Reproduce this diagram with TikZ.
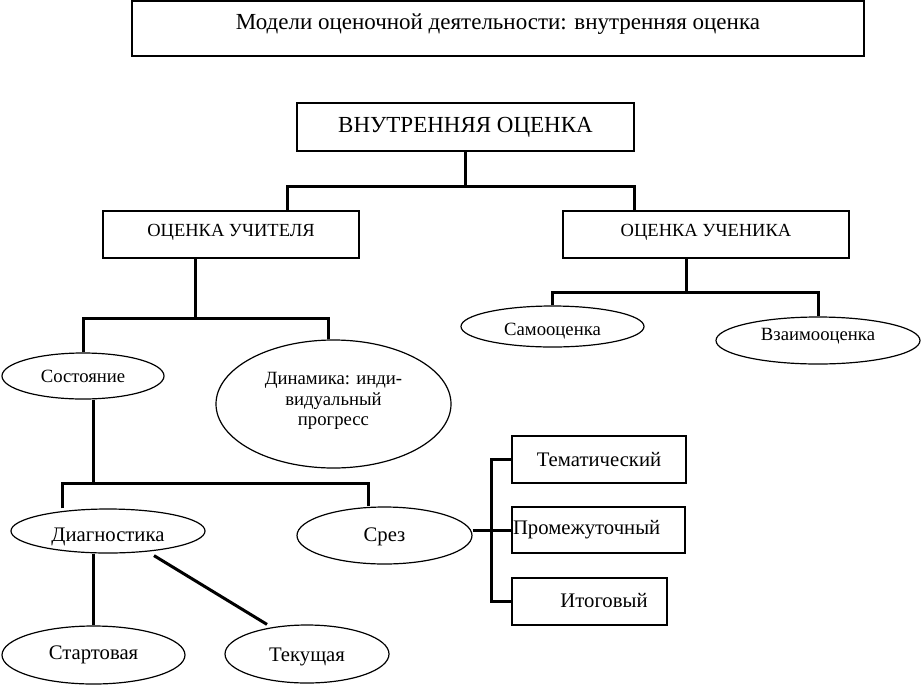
\documentclass[tikz,border=0pt]{standalone}
\usepackage{fontspec}
\setmainfont{Liberation Serif}
\usetikzlibrary{shapes.geometric}
\newcommand{\shiftv}[2]{\raisebox{#1}[\height][\depth]{#2}}
\begin{document}
\begin{tikzpicture}[x=1pt,y=-1pt,
  box/.style={draw,line width=1.6pt,rectangle,inner sep=0pt,align=center},
  oval/.style={draw,line width=1.2pt,ellipse,inner sep=0pt,align=center},
  conn/.style={line width=3pt},
  thinconn/.style={line width=2.4pt},
  fT/.style={font=\fontsize{23}{27}\selectfont},
  fM/.style={font=\fontsize{23}{27}\selectfont},
  fB/.style={font=\fontsize{18.5}{22}\selectfont},
  fU/.style={font=\fontsize{18.7}{20.5}\selectfont},
  fS/.style={font=\fontsize{20.7}{24}\selectfont}
]
\useasboundingbox (0,0) rectangle (921,686);
\node[box,fT,minimum width=732pt,minimum height=55pt] (title) at (498,28.5) {\shiftv{4pt}{Модели оценочной деятельности: внутренняя оценка}};
\node[box,fM,minimum width=337pt,minimum height=48pt] (main) at (465.5,127) {ВНУТРЕННЯЯ ОЦЕНКА};
\node[box,fB,minimum width=256pt,minimum height=47pt] (teacher) at (231,234.5) {\shiftv{2pt}{ОЦЕНКА УЧИТЕЛЯ}};
\node[box,fB,minimum width=286pt,minimum height=47pt] (student) at (706,234.5) {\shiftv{2pt}{ОЦЕНКА УЧЕНИКА}};
\node[oval,fU,minimum width=162pt,minimum height=46pt] (sost) at (83,376) {Состояние};
\node[oval,fU,minimum width=235pt,minimum height=128pt] (dyn) at (333.5,404) {\shiftv{3pt}{Динамика: инди-}\\\shiftv{3pt}{видуальный}\\\shiftv{3pt}{прогресс}};
\node[oval,fU,minimum width=183pt,minimum height=41pt] (samo) at (552.5,326.5) {\shiftv{-5pt}{Самооценка}};
\node[oval,fU,minimum width=204pt,minimum height=47pt] (vzaim) at (818,340.5) {\shiftv{4pt}{Взаимооценка}};
\node[oval,fS,minimum width=194pt,minimum height=44pt] (diag) at (108,531) {\shiftv{-6pt}{Диагностика}};
\node[oval,fS,minimum width=175pt,minimum height=57pt] (srez) at (384.5,535.5) {\shiftv{-1pt}{Срез}};
\node[oval,fS,minimum width=183pt,minimum height=58pt] (start) at (93.5,655) {Стартовая};
\node[oval,fS,minimum width=164pt,minimum height=58pt] (tek) at (307,654) {\shiftv{-3pt}{Текущая}};
\node[box,fS,minimum width=174pt,minimum height=47pt] (tem) at (599,459.5) {Тематический};
\node[box,fS,minimum width=173pt,minimum height=46pt,text width=171pt,align=left] (prom) at (598.5,530) {Промежуточный};
\node[box,fS,minimum width=155pt,minimum height=47pt] (itog) at (589.5,601.5) {\hspace*{29pt}\shiftv{1pt}{Итоговый}};
% connectors
\coordinate (b1) at (465.5,186);
\draw[conn] (main.south) -- (b1);
\draw[conn] ([xshift=56pt]teacher.north) |- (b1) -| ([xshift=-72pt]student.north);
\coordinate (b2) at (195,318);
\draw[conn] ([xshift=-36pt]teacher.south) -- (b2);
\draw[conn] (sost.north) |- (b2) -| ([xshift=-5.5pt]dyn.north);
\coordinate (b3) at (686,292);
\draw[conn] ([xshift=-20pt]student.south) -- (b3);
\draw[conn] (samo.north) |- (b3) -| (vzaim.north);
\coordinate (b4) at (93,483);
\draw[conn] ([xshift=10pt]sost.south) -- (b4);
\draw[conn] ([xshift=-46pt]diag.north) |- (b4) -| ([xshift=-16.5pt]srez.north);
\draw[thinconn] (start.north |- diag.south) -- (start.north);
\draw[conn] ([xshift=46pt,yshift=-2pt]diag.south) -- ([xshift=-40pt]tek.north);
\coordinate (b5) at (491,530);
\draw[conn] (srez.east |- prom.west) -- (prom.west);
\draw[conn] (tem.west) -| (b5) |- (itog.west);
\end{tikzpicture}
\end{document}
